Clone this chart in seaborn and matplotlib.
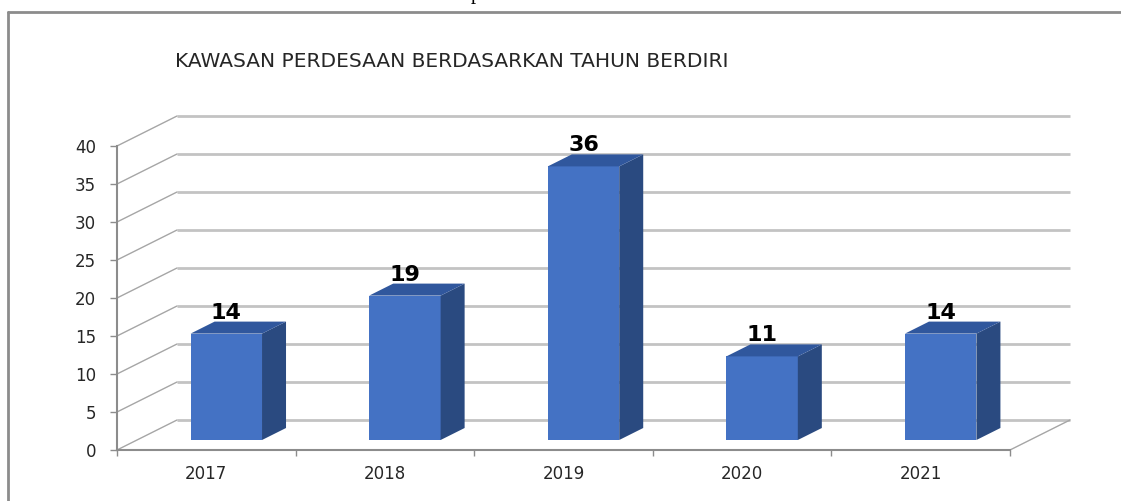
import numpy as np
import pandas as pd
import seaborn as sns
import matplotlib.pyplot as plt
from matplotlib.transforms import ScaledTranslation
from matplotlib.patches import Polygon
from matplotlib.lines import Line2D

# Data
years = ["2017", "2018", "2019", "2020", "2021"]
counts = [14, 19, 36, 11, 14]
y_ticks = [0, 5, 10, 15, 20, 25, 30, 35, 40]
title = "KAWASAN PERDESAAN BERDASARKAN TAHUN BERDIRI"

# Colours
FRONT = "#4472C4"
SIDE = "#2A4A80"
TOP = "#30579D"
GRID = "#C3C3C3"
WALL_EDGE = "#A6A6A6"
AXIS = "#8C8C8C"
TEXT = "#262626"

W, H, DPI = 1121, 501, 100
sns.set_style("white")
plt.rcParams["font.family"] = ["DejaVu Sans"]

fig = plt.figure(figsize=(W / DPI, H / DPI), dpi=DPI)
# axes = front plane of the 3-D box
ax = fig.add_axes([117 / W, 51 / H, 893 / W, 304 / H])

df = pd.DataFrame({"year": years, "count": counts})
sns.barplot(data=df, x="year", y="count", color=FRONT, saturation=1,
            width=0.4, ax=ax, zorder=3)
ax.set_xlim(-0.5, len(years) - 0.5)
ax.set_ylim(0, 40)
ax.set_xlabel("")
ax.set_ylabel("")


def inch(px):
    return px / DPI


# pixel -> data unit scale
o = ax.transData.transform((0, 0))
ux = ax.transData.transform((1, 0))[0] - o[0]
uy = ax.transData.transform((0, 1))[1] - o[1]

WALL_DX, WALL_DY = 60, 30      # box depth in pixels
BAR_SHIFT = (20, 10)           # bar front face set back into the box
BAR_DX, BAR_DY = 24, 12        # bar depth in pixels

wall = ax.transData + ScaledTranslation(inch(WALL_DX), inch(WALL_DY), fig.dpi_scale_trans)
shift = ax.transData + ScaledTranslation(inch(BAR_SHIFT[0]), inch(BAR_SHIFT[1]), fig.dpi_scale_trans)

x_lo, x_hi = ax.get_xlim()
wdx, wdy = WALL_DX / ux, WALL_DY / uy

# back wall gridlines
ax.hlines(y_ticks, x_lo, x_hi, colors=GRID, lw=2, transform=wall,
          clip_on=False, zorder=1)
# side wall / floor diagonals
for yv in y_ticks:
    ax.plot([x_lo, x_lo + wdx], [yv, yv + wdy], color=WALL_EDGE, lw=1,
            clip_on=False, zorder=1)
ax.plot([x_hi, x_hi + wdx], [0, wdy], color=WALL_EDGE, lw=1,
        clip_on=False, zorder=1)

# 3-D bars
bdx, bdy = BAR_DX / ux, BAR_DY / uy
for patch, val in zip(ax.patches, counts):
    patch.set_transform(shift)
    patch.set_edgecolor("none")
    patch.set_clip_on(False)
    x0, w, h = patch.get_x(), patch.get_width(), patch.get_height()
    side = Polygon([(x0 + w, 0), (x0 + w + bdx, bdy), (x0 + w + bdx, h + bdy), (x0 + w, h)],
                   closed=True, facecolor=SIDE, edgecolor="none", transform=shift,
                   clip_on=False, zorder=3)
    top = Polygon([(x0, h), (x0 + w, h), (x0 + w + bdx, h + bdy), (x0 + bdx, h + bdy)],
                  closed=True, facecolor=TOP, edgecolor="none", transform=shift,
                  clip_on=False, zorder=3)
    ax.add_patch(side)
    ax.add_patch(top)
    ax.annotate(str(val), xy=(x0 + w / 2, val), xycoords=shift,
                xytext=(0, (BAR_DY + 3) * 72 / DPI), textcoords="offset points",
                ha="center", va="baseline", fontsize=16, fontweight="bold",
                color="black", zorder=4, annotation_clip=False)

# axes styling
for s in ("top", "right"):
    ax.spines[s].set_visible(False)
for s in ("left", "bottom"):
    ax.spines[s].set_color(AXIS)
    ax.spines[s].set_linewidth(1.5)
ax.set_yticks(y_ticks)
ax.set_yticklabels([str(v) for v in y_ticks])
ax.tick_params(axis="y", length=5, width=1, color=AXIS, pad=10,
               labelsize=12, labelcolor=TEXT, left=True)
ax.set_xticks(range(len(years)))
ax.set_xticklabels(years)
ax.set_xticks(np.arange(len(years) + 1) - 0.5, minor=True)
ax.tick_params(axis="x", which="major", length=0, pad=11, labelsize=12,
               labelcolor=TEXT)
ax.tick_params(axis="x", which="minor", length=4, width=1, color=AXIS,
               bottom=True)

# title and frame
fig.text(175 / W, 1 - 62 / H, title, ha="left", va="center", fontsize=14.5,
         color=TEXT)
fig.add_artist(Line2D([8 / W, 8 / W], [0, 1 - 12 / H], transform=fig.transFigure,
                      color=AXIS, lw=2))
fig.add_artist(Line2D([8 / W, 1], [1 - 12 / H, 1 - 12 / H], transform=fig.transFigure,
                      color=AXIS, lw=2))
fig.text(471 / W, 1 + 1 / H, "p", family="Liberation Serif", fontsize=15,
         ha="left", va="baseline", color="black")

fig.savefig("out.png", dpi=DPI)
